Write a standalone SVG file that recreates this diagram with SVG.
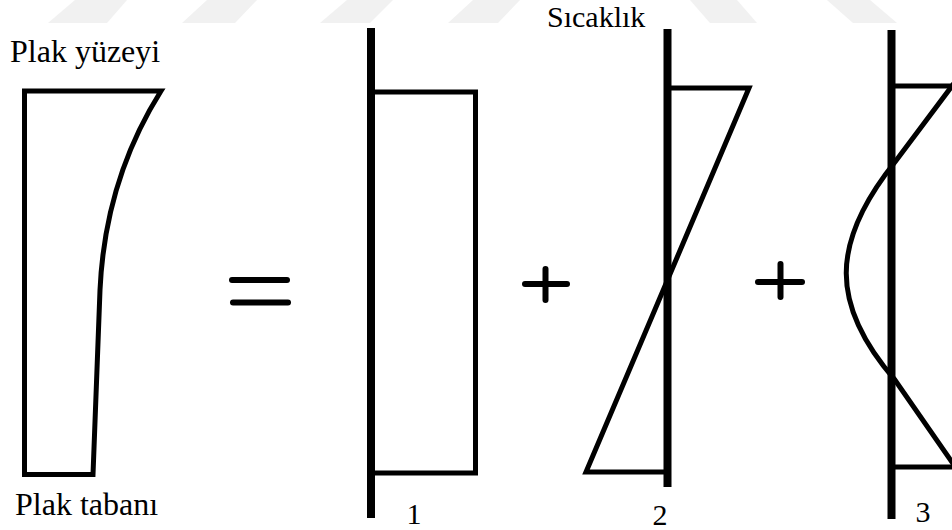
<svg xmlns="http://www.w3.org/2000/svg" width="952" height="530" viewBox="0 0 952 530">
  <style>
    .t { fill: #000; }
    .thin { fill: none; stroke: #000; stroke-width: 5; stroke-linejoin: miter; }
    .axis { fill: none; stroke: #000; stroke-width: 8; }
    .op { fill: none; stroke: #000; stroke-width: 6; stroke-linecap: round; }
    .wm { fill: #f1f1f1; }
  </style>
  <rect width="952" height="530" fill="#fff"/>
  <g id="watermark">
    <polygon class="wm" points="75,0 127,0 107,23 48,23"/>
    <polygon class="wm" points="207,0 257,0 235,23 182,23"/>
    <polygon class="wm" points="347,0 393,0 370,23 320,23"/>
    <polygon class="wm" points="473,0 520,0 498,23 448,23"/>
    <polygon class="wm" points="690,0 737,0 757,23 710,23"/>
    <polygon class="wm" points="827,0 870,0 897,23 853,23"/>
  </g>
  <g id="labels" font-family="'Liberation Serif', 'Times New Roman', 'DejaVu Serif', serif">
    <text class="t" x="10" y="62" font-size="32">Plak yüzeyi</text>
    <text class="t" x="15" y="515" font-size="32">Plak tabanı</text>
    <text class="t" x="547" y="27" font-size="30">Sıcaklık</text>
    <text class="t" x="414" y="524" font-size="30" text-anchor="middle">1</text>
    <text class="t" x="660" y="525" font-size="30" text-anchor="middle">2</text>
    <text class="t" x="923" y="522" font-size="30" text-anchor="middle">3</text>
  </g>
  <g id="plate-profile">
    <path class="thin" d="M161,91 L24.5,91 L24.5,474.5 L93,474.5 L100,290 Q105,180 161,91 Z"/>
  </g>
  <g id="operators">
    <line class="op" x1="232" y1="280" x2="287" y2="280"/>
    <line class="op" x1="233" y1="302.5" x2="288" y2="302.5"/>
    <line class="op" x1="525" y1="284" x2="567" y2="284"/>
    <line class="op" x1="545.5" y1="269" x2="545.5" y2="300"/>
    <line class="op" x1="758" y1="282" x2="802" y2="282"/>
    <line class="op" x1="780.5" y1="264" x2="780.5" y2="297"/>
  </g>
  <g id="component-1">
    <path class="thin" d="M371,92 L475.5,92 L475.5,473 L371,473"/>
    <line class="axis" x1="371" y1="28" x2="371" y2="518"/>
  </g>
  <g id="component-2">
    <path class="thin" d="M667,88 L749,88 L586,472 L667,472"/>
    <line class="axis" x1="667.5" y1="29" x2="667.5" y2="487"/>
  </g>
  <g id="component-3">
    <path class="thin" d="M892,86 L956,86"/>
    <path class="thin" d="M892,467 L956,467"/>
    <path class="thin" d="M955,82 L895,162 C830,243 830,305 895,380 L956,468"/>
    <line class="axis" x1="891.5" y1="30" x2="891.5" y2="519"/>
  </g>
</svg>
